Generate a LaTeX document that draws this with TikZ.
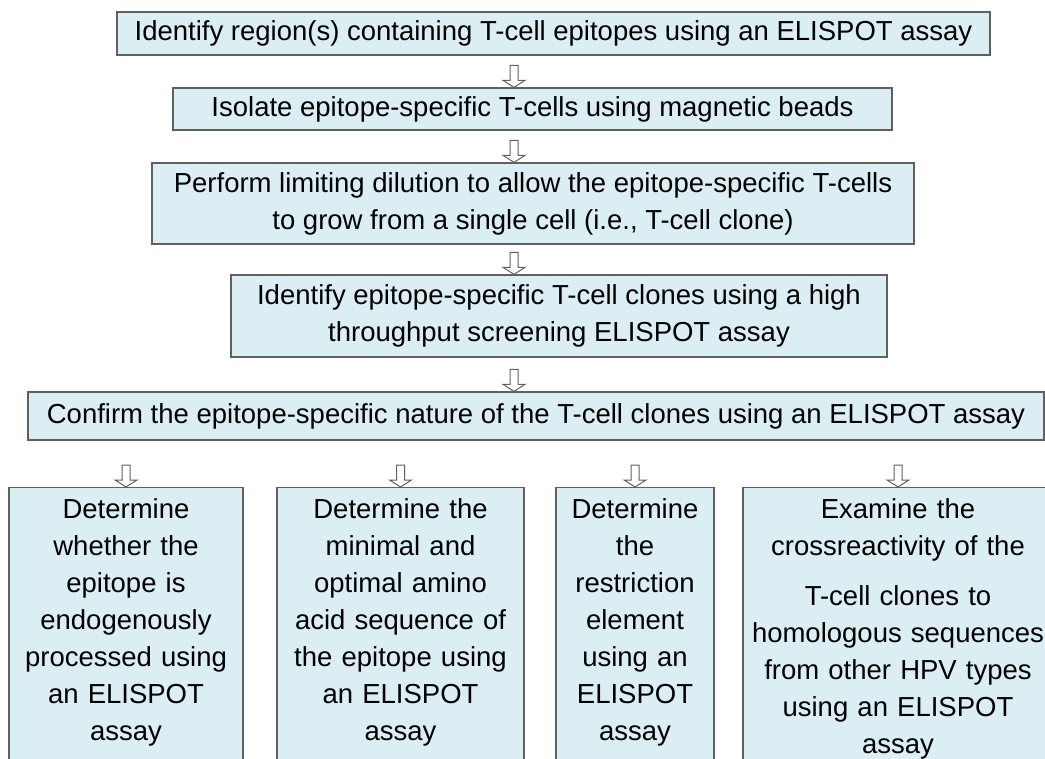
\documentclass[tikz,border=0pt]{standalone}
\usepackage{fontspec}
\setmainfont{Liberation Sans}
\usetikzlibrary{calc,positioning}
\definecolor{stepfill}{RGB}{219,238,244}
\definecolor{stepline}{RGB}{96,96,96}
\tikzset{stepbox/.style={draw=stepline, fill=stepfill, line width=1.3pt, align=center,
                         inner sep=0pt, font=\fontsize{27.5}{37}\selectfont},
        taskbox/.style={stepbox, anchor=north, inner xsep=0pt, inner ysep=11pt,
                        text depth=330pt, font=\fontsize{27.5}{37}\selectfont},
        downarrow/.style={draw=stepline, fill=white, line width=1pt,
            to path={let \p1=(\tikztostart), \p2=(\tikztotarget) in
                     (\x1-4pt,\y2+22pt) -- (\x1+4pt,\y2+22pt) -- (\x1+4pt,\y2+7pt)
                     -- (\x1+11pt,\y2+7pt) -- (\x2,\y2) -- (\x1-11pt,\y2+7pt)
                     -- (\x1-4pt,\y2+7pt) -- cycle}},
        }

\begin{document}
\begin{tikzpicture}[x=1pt,y=-1pt]
    \useasboundingbox (0,0) rectangle (1045,759);

    \node[stepbox, minimum width=873, minimum height=43] (identify) at (553.5,33.5)
        {Identify region(s) containing T-cell epitopes using an ELISPOT assay};
    \node[stepbox, minimum width=719, minimum height=42] (isolate) at (532.5,109)
        {Isolate epitope-specific T-cells using magnetic beads};
    \node[stepbox, minimum width=762, minimum height=81] (dilute) at (533,203.5)
        {Perform limiting dilution to allow the epitope-specific T-cells\\
         to grow from a single cell (i.e., T-cell clone)};
    \node[stepbox, minimum width=656, minimum height=82] (screen) at (559,316)
        {Identify epitope-specific T-cell clones using a high\\
         throughput screening ELISPOT assay};
    \node[stepbox, minimum width=1016, minimum height=48] (confirm) at (536,416)
        {Confirm the epitope-specific nature of the T-cell clones using an ELISPOT assay};

    \begin{scope}[every node/.style={taskbox}]
        \node[text width=234] (processing) at (126,487)
            {Determine\\ whether the\\ epitope is\\ endogenously\\ processed using\\ an ELISPOT\\ assay};
        \node[text width=247] (minimal) at (400.5,487)
            {Determine the\\ minimal and\\ optimal amino\\ acid sequence of\\ the epitope using\\ an ELISPOT\\ assay};
        \node[text width=158] (restriction) at (635,487)
            {Determine\\ the\\ restriction\\ element\\ using an\\ ELISPOT\\ assay};
        \node[text width=310] (crossreact) at (898,487)
            {Examine the\\ crossreactivity of the\\[13pt] T-cell clones to\\ homologous sequences\\ from other HPV types\\ using an ELISPOT\\ assay};
    \end{scope}

    % hollow arrows down the main column
    \coordinate (spine) at (514,0);
    \draw[downarrow] (identify.south -| spine) to (isolate.north -| spine);
    \draw[downarrow] (isolate.south -| spine) to (dilute.north -| spine);
    \draw[downarrow] (dilute.south -| spine) to (screen.north -| spine);
    \draw[downarrow] (screen.south -| spine) to (confirm.north -| spine);

    \foreach \task in {processing, minimal, restriction, crossreact}
        \draw[downarrow] (confirm.south -| \task.north) to (\task.north);

\end{tikzpicture}
\end{document}
